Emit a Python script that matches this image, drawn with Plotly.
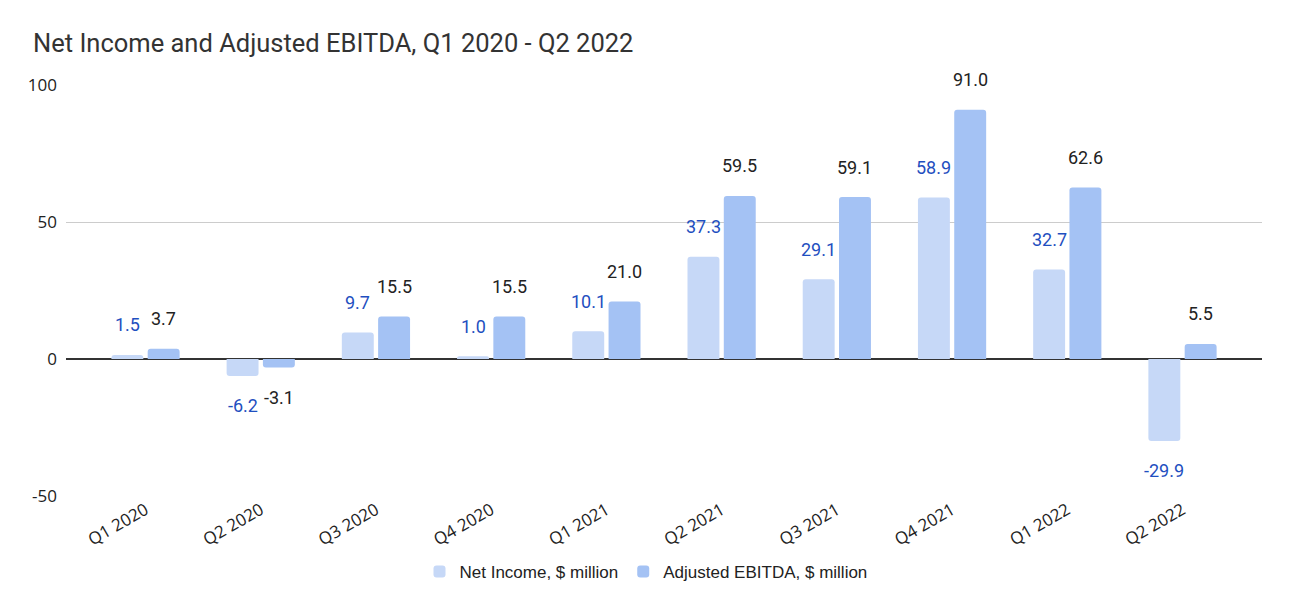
import plotly.graph_objects as go

quarters = ["Q1 2020", "Q2 2020", "Q3 2020", "Q4 2020", "Q1 2021",
            "Q2 2021", "Q3 2021", "Q4 2021", "Q1 2022", "Q2 2022"]
net_income = [1.5, -6.2, 9.7, 1.0, 10.1, 37.3, 29.1, 58.9, 32.7, -29.9]
adj_ebitda = [3.7, -3.1, 15.5, 15.5, 21.0, 59.5, 59.1, 91.0, 62.6, 5.5]
y_ticks = [-50, 0, 50, 100]
y_tick_labels = ["-50", "0", "50", "100"]

W, H = 1292, 612
off = 8  # page body margin
ml, mr, mt, mb = 66 - off, 30 + off, 85 - off, 116 + off
xr = [-0.69, 9.69]
bargap = 0.37
bargroupgap = 0.12

ni_color = "#c6d8f7"
eb_color = "#a4c2f4"
ni_text = "#1f4fc0"
eb_text = "#222222"

fig = go.Figure()
fig.add_trace(go.Bar(x=quarters, y=net_income, name="Net Income, $ million",
                     marker=dict(color=ni_color, line=dict(width=0))))
fig.add_trace(go.Bar(x=quarters, y=adj_ebitda, name="Adjusted EBITDA, $ million",
                     marker=dict(color=eb_color, line=dict(width=0))))

plot_w = W - ml - mr
plot_h = H - mt - mb
cat_px = plot_w / (xr[1] - xr[0])
slot_px = cat_px * (1 - bargap) / 2
for vals, col, sign in [(net_income, ni_text, -1), (adj_ebitda, eb_text, 1)]:
    for q, v in zip(quarters, vals):
        fig.add_annotation(x=q, y=v, text=f"{v:.1f}", showarrow=False,
                           xshift=sign * slot_px / 2,
                           yshift=30 if v >= 0 else -30,
                           font=dict(family="Roboto", size=18, color=col))

fig.update_layout(
    width=W, height=H,
    margin=dict(l=ml, r=mr, t=mt, b=mb, autoexpand=False),
    paper_bgcolor="white", plot_bgcolor="white",
    barmode="group", bargap=bargap, bargroupgap=bargroupgap,
    barcornerradius=3,
    title=dict(text="Net Income and Adjusted EBITDA, Q1 2020 - Q2 2022",
               x=(33 - off) / W, xanchor="left", y=1 - (43 - off) / H, yanchor="middle",
               font=dict(family="Roboto", size=25.5, color="#333333")),
    legend=dict(orientation="h", x=(646 - off - ml) / plot_w, xanchor="center",
                y=-(572 - off - (mt + plot_h)) / plot_h, yanchor="middle",
                font=dict(family="Arial", size=17, color="#222222"),
                itemsizing="constant"),
    xaxis=dict(range=xr, tickangle=-30, showgrid=False, ticks="",
               tickfont=dict(family="Open Sans", size=17, color="#222222")),
    yaxis=dict(range=[-50, 100], tickvals=y_ticks, ticktext=y_tick_labels,
               showgrid=True, gridcolor="#cccccc", gridwidth=1,
               zeroline=True, zerolinecolor="#333333", zerolinewidth=1.5,
               tickfont=dict(family="Open Sans", size=17, color="#222222"),
               ticks="", ticklen=0, ticklabelstandoff=8),
)
fig.write_html("out.html")
